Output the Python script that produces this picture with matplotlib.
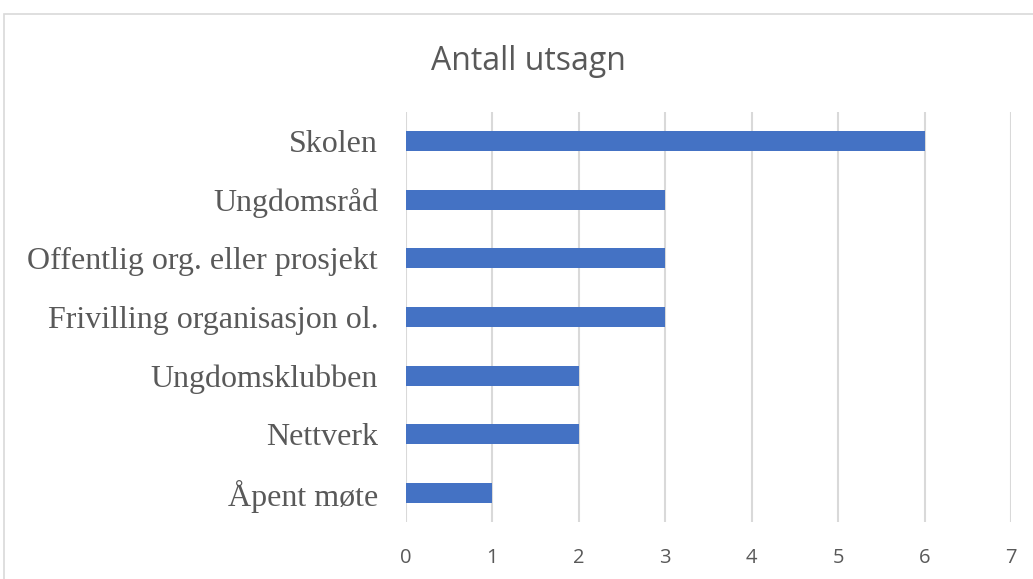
import matplotlib.pyplot as plt
from matplotlib.patches import Rectangle

# Data (top to bottom as shown)
categories = ["Skolen", "Ungdomsråd", "Offentlig org. eller prosjekt",
              "Frivilling organisasjon ol.", "Ungdomsklubben", "Nettverk", "Åpent møte"]
values = [6, 3, 3, 3, 2, 2, 1]
xticks = [0, 1, 2, 3, 4, 5, 6, 7]

bar_color = "#4472C4"
grid_color = "#D9D9D9"
text_color = "#595959"

fig = plt.figure(figsize=(10.33, 5.79), dpi=100)
ax = fig.add_axes([406 / 1033, 1 - 522 / 579, (1011 - 406) / 1033, (522 - 112) / 579])

# outer chart border (cut off at right and bottom in the reference)
fig.patches.append(Rectangle((4 / 1033, -0.1), 1.2, 1 - 14 / 579 + 0.1,
                             transform=fig.transFigure, fill=False,
                             edgecolor=grid_color, linewidth=1.2))

ypos = list(range(len(categories)))
ax.barh(ypos, values, height=0.34, color=bar_color, zorder=3)
ax.set_ylim(len(categories) - 0.5, -0.5)
ax.set_xlim(0, 7)

ax.set_xticks(xticks)
ax.set_xticklabels([str(t) for t in xticks], family="Open Sans", fontsize=14.5, color=text_color)
ax.set_yticks(ypos)
ax.set_yticklabels(categories, family="Liberation Serif", fontsize=23, color=text_color)
ax.tick_params(axis="x", length=0, pad=19)
ax.tick_params(axis="y", length=0, pad=20)

for t in xticks:
    ax.axvline(t, color=grid_color, linewidth=1.5, zorder=1)

for s in ax.spines.values():
    s.set_visible(False)

fig.text(528 / 1033, 1 - 61 / 579, "Antall utsagn", ha="center", va="center",
         family="Open Sans", fontsize=23, color=text_color)

fig.savefig("out.png", dpi=100)
